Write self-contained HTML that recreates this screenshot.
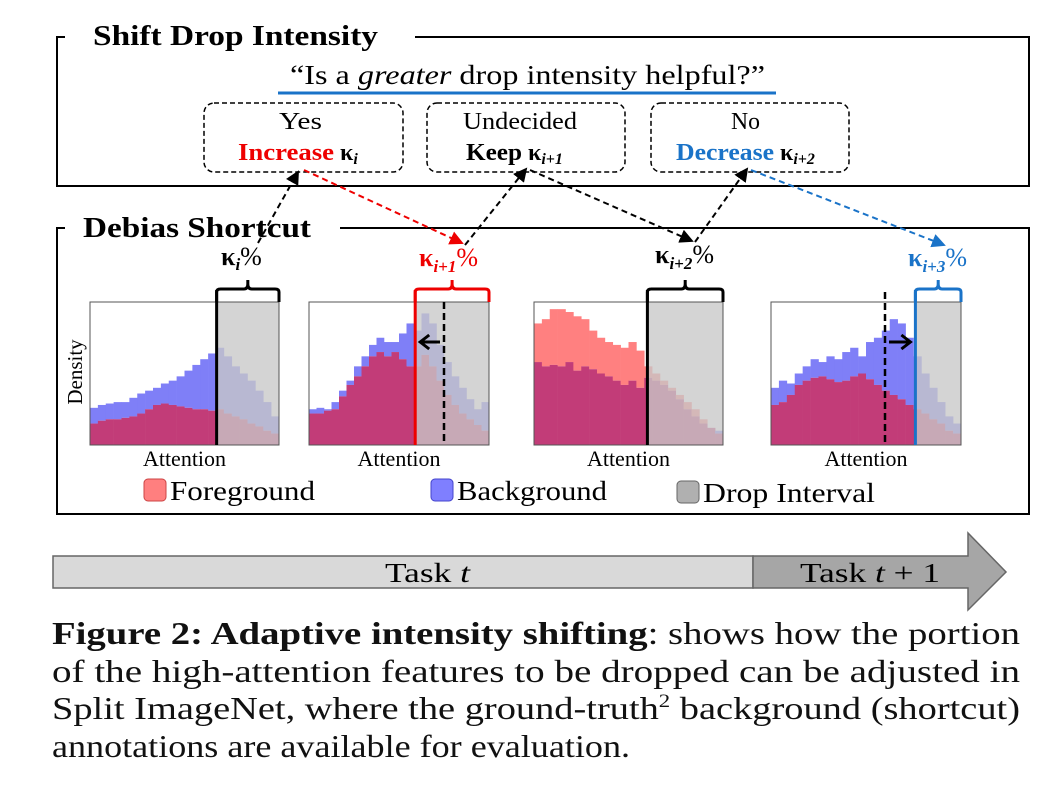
<!DOCTYPE html>
<html><head><meta charset="utf-8"><style>
body{margin:0;background:#fff;width:1047px;height:794px;overflow:hidden;position:relative}
svg{position:absolute;left:0;top:0}
</style></head><body>
<svg id="fig" width="1047" height="794" viewBox="0 0 1047 794" font-family="Liberation Serif, serif">
<defs>
<marker id="ar" markerWidth="14" markerHeight="14" refX="12" refY="7" orient="auto" markerUnits="userSpaceOnUse"><path d="M0,0 L14,7 L0,14z" fill="#e00"/></marker>
<marker id="ab" markerWidth="14" markerHeight="14" refX="12" refY="7" orient="auto" markerUnits="userSpaceOnUse"><path d="M0,0 L14,7 L0,14z" fill="#1a73c8"/></marker>
<marker id="abk" markerWidth="14" markerHeight="14" refX="12" refY="7" orient="auto" markerUnits="userSpaceOnUse"><path d="M0,0 L14,7 L0,14z" fill="#000"/></marker>
</defs>
<g>
<path d="M65,37 L57,37 L57,186 L1029,186 L1029,37 L415,37" fill="none" stroke="#000" stroke-width="2"/>
<text x="93" y="45" font-size="29" font-weight="bold" textLength="285" lengthAdjust="spacingAndGlyphs">Shift Drop Intensity</text>
<text x="290" y="84" font-size="27" textLength="475" lengthAdjust="spacingAndGlyphs">“Is a <tspan font-style="italic">greater</tspan> drop intensity helpful?”</text>
<line x1="278" y1="93" x2="776" y2="93" stroke="#1a73c8" stroke-width="3"/>
<rect x="204" y="103" width="199" height="69" rx="10" fill="none" stroke="#000" stroke-width="1.5" stroke-dasharray="5,3"/>
<rect x="427" y="103" width="198" height="69" rx="10" fill="none" stroke="#000" stroke-width="1.5" stroke-dasharray="5,3"/>
<rect x="651" y="103" width="198" height="69" rx="10" fill="none" stroke="#000" stroke-width="1.5" stroke-dasharray="5,3"/>
<text x="279" y="129" font-size="24" textLength="43" lengthAdjust="spacingAndGlyphs">Yes</text>
<text x="463" y="129" font-size="24" textLength="114" lengthAdjust="spacingAndGlyphs">Undecided</text>
<text x="731" y="129" font-size="24" textLength="29" lengthAdjust="spacingAndGlyphs">No</text>
<text x="238" y="160" font-size="24" font-weight="bold" fill="#e00" textLength="96" lengthAdjust="spacingAndGlyphs">Increase</text>
<text x="340" y="160" font-size="24" font-weight="bold">κ<tspan font-style="italic" font-size="16" dy="4">i</tspan></text>
<text x="466" y="160" font-size="24" font-weight="bold" textLength="56" lengthAdjust="spacingAndGlyphs">Keep</text>
<text x="528" y="160" font-size="24" font-weight="bold">κ<tspan font-style="italic" font-size="16" dy="4">i+1</tspan></text>
<text x="676" y="160" font-size="24" font-weight="bold" fill="#1a73c8" textLength="98" lengthAdjust="spacingAndGlyphs">Decrease</text>
<text x="780" y="160" font-size="24" font-weight="bold">κ<tspan font-style="italic" font-size="16" dy="4">i+2</tspan></text>
</g>
<g>
<path d="M65,228 L57,228 L57,514 L1029,514 L1029,228 L340,228" fill="none" stroke="#000" stroke-width="2"/>
<text x="83" y="237" font-size="29" font-weight="bold" textLength="228" lengthAdjust="spacingAndGlyphs">Debias Shortcut</text>
<text x="221" y="265" font-size="26" font-weight="bold">κ<tspan font-style="italic" font-size="17" dy="5">i</tspan><tspan dy="-5" font-weight="normal">%</tspan></text>
<text x="419" y="266" font-size="26" font-weight="bold" fill="#e00">κ<tspan font-style="italic" font-size="17" dy="6">i+1</tspan><tspan dy="-6" font-weight="normal">%</tspan></text>
<text x="655" y="263" font-size="26" font-weight="bold">κ<tspan font-style="italic" font-size="17" dy="6">i+2</tspan><tspan dy="-6" font-weight="normal">%</tspan></text>
<text x="908" y="266" font-size="26" font-weight="bold" fill="#1a73c8">κ<tspan font-style="italic" font-size="17" dy="6">i+3</tspan><tspan dy="-6" font-weight="normal">%</tspan></text>
<text transform="translate(82,372) rotate(-90)" font-size="21" text-anchor="middle">Density</text>
</g>
<g stroke-width="2" stroke-dasharray="6,4" fill="none">
<line x1="258" y1="243" x2="298" y2="172" stroke="#000" marker-end="url(#abk)"/>
<line x1="304" y1="170" x2="462" y2="243" stroke="#e00" marker-end="url(#ar)"/>
<line x1="465" y1="245" x2="526" y2="169" stroke="#000" marker-end="url(#abk)"/>
<line x1="530" y1="170" x2="692" y2="241" stroke="#000" marker-end="url(#abk)"/>
<line x1="695" y1="242" x2="747" y2="169" stroke="#000" marker-end="url(#abk)"/>
<line x1="751" y1="170" x2="944" y2="245" stroke="#1a73c8" marker-end="url(#ab)"/>
</g>
<g id="panels"></g>
<g font-size="27">
<rect x="144" y="479" width="22" height="22" rx="4" fill="#ff7f7f" stroke="#c44" stroke-width="1"/>
<text x="170" y="500" textLength="145" lengthAdjust="spacingAndGlyphs">Foreground</text>
<rect x="431" y="479" width="22" height="22" rx="4" fill="#7f7fff" stroke="#44c" stroke-width="1"/>
<text x="457" y="500" textLength="150" lengthAdjust="spacingAndGlyphs">Background</text>
<rect x="677" y="481" width="22" height="22" rx="4" fill="#b0b0b0" stroke="#666" stroke-width="1"/>
<text x="703" y="502" textLength="172" lengthAdjust="spacingAndGlyphs">Drop Interval</text>
</g>
<g>
<rect x="53" y="556" width="700" height="32" fill="#d9d9d9" stroke="#666" stroke-width="1.5"/>
<path d="M753,556 L968,556 L968,533 L1006,572 L968,610 L968,588 L753,588z" fill="#a6a6a6" stroke="#666" stroke-width="1.5"/>
<text x="385" y="582" font-size="27" textLength="85" lengthAdjust="spacingAndGlyphs">Task <tspan font-style="italic">t</tspan></text>
<text x="800" y="582" font-size="27" textLength="140" lengthAdjust="spacingAndGlyphs">Task <tspan font-style="italic">t</tspan> + 1</text>
</g>
<g font-size="32" fill="#111">
<text x="52" y="644" textLength="968" lengthAdjust="spacingAndGlyphs"><tspan font-weight="bold">Figure 2: Adaptive intensity shifting</tspan>: shows how the portion</text>
<text x="52" y="682" textLength="968" lengthAdjust="spacingAndGlyphs">of the high-attention features to be dropped can be adjusted in</text>
<text x="52" y="719" textLength="968" lengthAdjust="spacingAndGlyphs">Split ImageNet, where the ground-truth<tspan font-size="19" dy="-12">2</tspan><tspan dy="12"> background (shortcut)</tspan></text>
<text x="52" y="757" textLength="578" lengthAdjust="spacingAndGlyphs">annotations are available for evaluation.</text>
</g>
</svg>
<script>
const bg1=[.26,.28,.29,.30,.30,.33,.36,.38,.40,.43,.45,.48,.52,.56,.60,.64,.68,.62,.55,.50,.45,.38,.30,.20];
const fg1=[.15,.17,.18,.18,.19,.20,.22,.25,.28,.29,.28,.27,.26,.25,.25,.24,.25,.22,.20,.18,.15,.13,.10,.08];
const bg2=[.25,.26,.25,.30,.38,.45,.55,.62,.70,.75,.72,.72,.78,.85,.80,.92,.85,.70,.58,.48,.40,.32,.25,.30];
const fg2=[.22,.22,.24,.25,.34,.42,.48,.55,.62,.65,.62,.65,.60,.55,.55,.63,.55,.45,.35,.28,.22,.18,.14,.10];
const bg3=[.58,.55,.56,.55,.58,.52,.55,.53,.50,.48,.45,.42,.45,.40,.47,.45,.42,.38,.32,.25,.20,.15,.12,.10];
const fg3=[.85,.88,.95,.95,.93,.90,.88,.80,.75,.72,.70,.68,.72,.66,.55,.50,.45,.40,.35,.30,.25,.18,.12,.08];
const bg4=[.40,.45,.43,.50,.55,.60,.58,.62,.60,.65,.68,.62,.72,.75,.80,.88,.85,.75,.62,.50,.40,.30,.20,.15];
const fg4=[.28,.30,.35,.42,.45,.47,.48,.46,.44,.45,.48,.50,.46,.42,.38,.35,.32,.28,.25,.22,.18,.15,.10,.08];
const dropStart=[0.67,0.59,0.60,0.76];
const oldLine=[null,0.75,null,0.60];
const P=[{x:90,w:189,bg:bg1,fg:fg1,c:'#000'},{x:309,w:180,bg:bg2,fg:fg2,c:'#e00'},{x:534,w:189,bg:bg3,fg:fg3,c:'#000'},{x:771,w:190,bg:bg4,fg:fg4,c:'#1a73c8'}];
const topY=302,H=143,NS='http://www.w3.org/2000/svg';
const g=document.getElementById('panels');
function mk(t,a,par){const e=document.createElementNS(NS,t);for(const k in a)e.setAttribute(k,a[k]);(par||g).appendChild(e);return e;}
P.forEach((p,i)=>{
 const pg=mk('g',{});
 
 
 const n=p.bg.length,bw=p.w/n,y=v=>topY+H-v*H;
 for(let k=0;k<n;k++){
  const b=p.bg[k],f=p.fg[k],lo=Math.min(b,f),hi=Math.max(b,f);
  const r1=mk('rect',{x:p.x+k*bw,y:y(hi),width:bw+0.3,height:(hi-lo)*H,fill:b>f?'#7f7ff7':'#ff8080'},pg);
  
  
  const r2=mk('rect',{x:p.x+k*bw,y:y(lo),width:bw+0.3,height:lo*H,fill:'#c23c78'},pg);
  
  
 }
 const dx=p.x+dropStart[i]*p.w;
 const dr=mk('rect',{x:dx,y:topY,width:p.x+p.w-dx,height:H,fill:'rgba(200,200,200,0.78)'},pg);
 
 
 mk('rect',{x:p.x,y:topY,width:p.w,height:H,fill:'none',stroke:'#555','stroke-width':1},pg);
 mk('line',{x1:dx,y1:topY-12,x2:dx,y2:topY+H,stroke:p.c,'stroke-width':3},pg);
 const ex=p.x+p.w,mx=(dx+ex)/2;
 const br=mk('path',{d:`M${dx},${topY} L${dx},${topY-10} Q${dx},${topY-13} ${dx+4},${topY-13} L${mx-4},${topY-13} Q${mx},${topY-13} ${mx},${topY-18} L${mx},${topY-22} M${mx},${topY-18} Q${mx},${topY-13} ${mx+4},${topY-13} L${ex-4},${topY-13} Q${ex},${topY-13} ${ex},${topY-10} L${ex},${topY}`,fill:'none',stroke:p.c,'stroke-width':3},pg);
 
 
 if(oldLine[i]!==null){
  const ox=p.x+oldLine[i]*p.w;
  mk('line',{x1:ox,y1:i==3?topY-10:topY,x2:ox,y2:topY+H,stroke:'#000','stroke-width':2.5,'stroke-dasharray':'7,4'},pg);
  const ay=topY+40;
  if(i==1){mk('path',{d:`M${ox-4},${ay} L${dx+6},${ay} M${dx+14},${ay-7} L${dx+5},${ay} L${dx+14},${ay+7}`,fill:'none',stroke:'#000','stroke-width':3},pg);}
  else{mk('path',{d:`M${ox+4},${ay} L${dx-6},${ay} M${dx-14},${ay-7} L${dx-5},${ay} L${dx-14},${ay+7}`,fill:'none',stroke:'#000','stroke-width':3},pg);}
 }
 const t=mk('text',{x:p.x+p.w/2,y:topY+H+21,'font-size':22,'text-anchor':'middle'},pg);
 t.textContent='Attention';
 
 
});
</script>
</body></html>
